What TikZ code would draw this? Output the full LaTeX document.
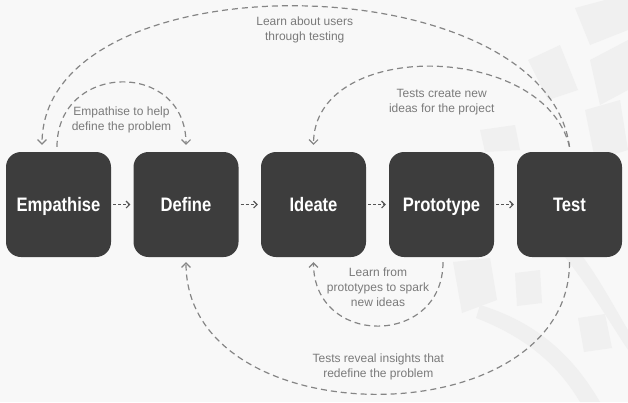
\documentclass[tikz,border=0pt]{standalone}
\usepackage{fontspec}
\setmainfont{Liberation Sans}
\newfontfamily\boxfont[FakeStretch=0.85]{Liberation Sans}
\usetikzlibrary{arrows.meta}
\definecolor{bgc}{HTML}{F8F8F8}
\definecolor{wmc}{HTML}{F0F0F0}
\definecolor{boxc}{HTML}{3D3D3D}
\definecolor{linec}{HTML}{858585}
\definecolor{txtc}{HTML}{7A7A7A}
\definecolor{harrc}{HTML}{555555}
\tikzset{
  stagebox/.style={fill=boxc, rounded corners=15pt, minimum width=105pt, minimum height=105pt,
    inner sep=0pt, text=white, text height=14pt, text depth=1pt,
    font=\boxfont\bfseries\fontsize{19.5}{22}\selectfont},
  loopline/.style={draw=linec, line width=1.2pt, dash pattern=on 6pt off 4pt,
    -{Straight Barb[length=4.5pt,width=9pt,line width=1.1pt]}},
  steparrow/.style={draw=harrc, line width=1.2pt, dash pattern=on 3pt off 2pt,
    -{Straight Barb[length=3.5pt,width=7pt,line width=1.1pt]}},
  looplabel/.style={text=txtc, align=center, font=\fontsize{12}{15}\selectfont, inner sep=0pt},
  wmark/.style={fill=wmc, draw=none}
}
\begin{document}
\begin{tikzpicture}[x=1pt,y=-1pt]
\useasboundingbox[fill=bgc] (0,0) rectangle (628,402);
% faint watermark
\fill[wmark] (453,262) -- (490,258) -- (497,300) -- (462,313) -- cycle;
\fill[wmark] (515,273) -- (540,270) -- (542,303) -- (517,306) -- cycle;
\fill[wmark] (578,318) -- (605,314) -- (612,348) -- (584,352) -- cycle;
\fill[wmark] (480,305) .. controls (530,320) and (570,350) .. (600,402) -- (580,402) .. controls (555,360) and (520,335) .. (476,318) -- cycle;
\fill[wmark] (560,230) .. controls (590,260) and (610,300) .. (628,330) -- (628,350) .. controls (605,315) and (585,280) .. (555,245) -- cycle;
\fill[wmark] (590,60) -- (628,40) -- (628,90) -- (600,105) -- cycle;
\fill[wmark] (585,110) -- (620,100) -- (628,150) -- (595,160) -- cycle;
\fill[wmark] (528,60) -- (560,45) -- (578,90) -- (548,100) -- cycle;
\fill[wmark] (575,8) -- (605,0) -- (628,0) -- (628,30) -- (590,45) -- cycle;
\fill[wmark] (480,130) -- (515,125) -- (520,150) -- (485,152) -- cycle;

% stages
\node[stagebox] (emp)   at (58.5,204.5) {Empathise};
\node[stagebox] (def)   at (186,204.5)  {Define};
\node[stagebox] (ide)   at (313.5,204.5){Ideate};
\node[stagebox] (pro)   at (441.5,204.5){Prototype};
\node[stagebox] (tst)   at (569.5,204.5){Test};

% step arrows
\draw[steparrow] ([xshift=2pt]emp.east) -- ([xshift=-3pt]def.west);
\draw[steparrow] ([xshift=2pt]def.east) -- ([xshift=-3pt]ide.west);
\draw[steparrow] ([xshift=2pt]ide.east) -- ([xshift=-3pt]pro.west);
\draw[steparrow] ([xshift=2pt]pro.east) -- ([xshift=-3pt]tst.west);

% anchors for loops
\coordinate (tTop)  at ([yshift=5pt]tst.north);
\coordinate (eTopA) at ([xshift=-16.5pt,yshift=7pt]emp.north);
\coordinate (eTopB) at ([xshift=-1.5pt,yshift=5pt]emp.north);
\coordinate (dTop)  at ([yshift=7pt]def.north);
\coordinate (iTop)  at ([yshift=7pt]ide.north);
\coordinate (iBot)  at ([yshift=-5pt]ide.south);
\coordinate (pBot)  at ([xshift=1.5pt,yshift=-5pt]pro.south);
\coordinate (tBot)  at ([yshift=-5pt]tst.south);
\coordinate (dBot)  at ([yshift=-5pt]def.south);

% loops
\draw[loopline] (tTop) .. controls +(-25,-185) and +(0,-188) .. (eTopA);
\draw[loopline] (tTop) .. controls +(-25,-105) and +(0,-107) .. (iTop);
\draw[loopline] (eTopB) .. controls +(0,-85) and +(0,-85) .. (dTop);
\draw[loopline] (pBot) .. controls +(0,85) and +(0,85) .. (iBot);
\draw[loopline] (tBot) .. controls +(0,176) and +(0,176) .. (dBot);

% labels
\node[looplabel] (l1) at (304.7,30)  {Learn about users\\through testing};
\node[looplabel] (l2) at (121.5,120) {Empathise to help\\define the problem};
\node[looplabel] (l3) at (441.7,102) {Tests create new\\ideas for the project};
\node[looplabel] (l4) at (378,287)   {Learn from\\prototypes to spark\\new ideas};
\node[looplabel] (l5) at (378.3,367) {Tests reveal insights that\\redefine the problem};
\end{tikzpicture}
\end{document}
